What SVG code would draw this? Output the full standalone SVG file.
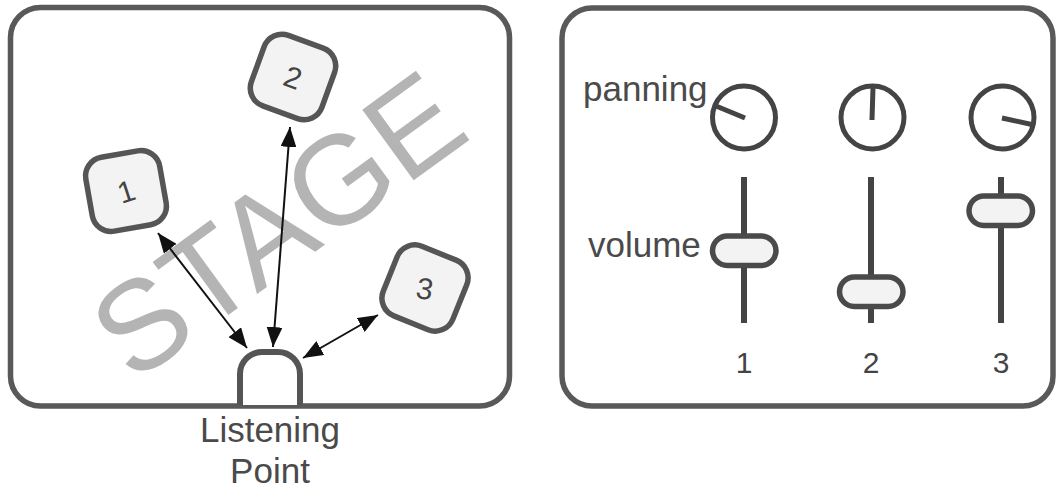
<svg xmlns="http://www.w3.org/2000/svg" width="1056" height="490" viewBox="0 0 1056 490">
  <style>
    .panel { fill: #ffffff; stroke: #595959; stroke-width: 5.5; }
    .src rect { fill: #f3f3f3; stroke: #555555; stroke-width: 5.5; }
    .src text { font-family: "Liberation Sans", Arial, sans-serif; font-size: 30px; fill: #444444; text-anchor: middle; }
    .lbl { font-family: "Liberation Sans", Arial, sans-serif; font-size: 35px; fill: #4a4a4a; }
    .num { font-family: "Liberation Sans", Arial, sans-serif; font-size: 30px; fill: #444444; text-anchor: middle; }
    .knob circle { fill: #ffffff; stroke: #444444; stroke-width: 5; }
    .knob line { stroke: #444444; stroke-width: 5; }
    .fader line { stroke: #444444; stroke-width: 6; }
    .fader rect { fill: #f3f3f3; stroke: #4a4a4a; stroke-width: 5.5; }
    .link { stroke: #111111; stroke-width: 2; fill: none; marker-start: url(#head); marker-end: url(#head); }
  </style>
  <defs>
    <marker id="head" viewBox="0 0 20 16" refX="20" refY="8" markerWidth="20" markerHeight="16" markerUnits="userSpaceOnUse" orient="auto-start-reverse">
      <path d="M0,0 L20,8 L0,16 z" fill="#111111"/>
    </marker>
  </defs>

  <!-- Stage panel -->
  <g id="stage">
    <rect class="panel" x="10.5" y="7.5" width="499" height="398.5" rx="30"/>
    <g transform="translate(277,224) rotate(-36)">
      <text x="0" y="45" text-anchor="middle" font-family="'Liberation Sans', Arial, sans-serif" font-size="127" fill="#b4b4b4">STAGE</text>
    </g>
  </g>

  <!-- Mixer panel -->
  <g id="mixer">
    <rect class="panel" x="562" y="8" width="491" height="398" rx="30"/>
  </g>

  <!-- Connectors from sources to listener -->
  <g id="connectors">
    <line class="link" x1="158" y1="233" x2="247" y2="348"/>
    <line class="link" x1="290" y1="127" x2="273" y2="347"/>
    <line class="link" x1="378" y1="315" x2="303" y2="358"/>
  </g>

  <!-- Sound sources -->
  <g id="source-1" class="src" transform="translate(126,191) rotate(-10)">
    <rect x="-37.5" y="-37.5" width="75" height="75" rx="19"/>
    <text x="0" y="11" transform="rotate(-8)">1</text>
  </g>
  <g id="source-2" class="src" transform="translate(293,77) rotate(20)">
    <rect x="-37.5" y="-37.5" width="75" height="75" rx="19"/>
    <text x="0" y="11">2</text>
  </g>
  <g id="source-3" class="src" transform="translate(425,288) rotate(22)">
    <rect x="-37.5" y="-37.5" width="75" height="75" rx="19"/>
    <text x="0" y="11" transform="rotate(-12)">3</text>
  </g>

  <!-- Listening point -->
  <g id="listener">
    <path d="M240,405 V374 A22,22 0 0 1 262,352 H278 A22,22 0 0 1 300,374 V405" fill="#ffffff" stroke="#555555" stroke-width="6"/>
    <text class="lbl" x="270" y="442" text-anchor="middle">Listening</text>
    <text class="lbl" x="270" y="483" text-anchor="middle">Point</text>
  </g>

  <!-- Mixer labels -->
  <g id="labels">
    <text class="lbl" x="583" y="101">panning</text>
    <text class="lbl" x="588" y="257">volume</text>
  </g>

  <!-- Channel 1 -->
  <g id="channel-1">
    <g class="knob">
      <circle cx="744" cy="117.5" r="31.5"/>
      <line x1="745" y1="118" x2="716" y2="106"/>
    </g>
    <g class="fader">
      <line x1="744" y1="177" x2="744" y2="323"/>
      <rect x="712.5" y="236" width="63.5" height="29.5" rx="14.75"/>
    </g>
    <text class="num" x="744" y="373">1</text>
  </g>

  <!-- Channel 2 -->
  <g id="channel-2">
    <g class="knob">
      <circle cx="872.5" cy="117.5" r="31.5"/>
      <line x1="872" y1="120" x2="873" y2="87"/>
    </g>
    <g class="fader">
      <line x1="871" y1="177" x2="871" y2="323"/>
      <rect x="839.5" y="277" width="63.5" height="29.5" rx="14.75"/>
    </g>
    <text class="num" x="871" y="373">2</text>
  </g>

  <!-- Channel 3 -->
  <g id="channel-3">
    <g class="knob">
      <circle cx="1002.5" cy="117.5" r="31.5"/>
      <line x1="1002" y1="118" x2="1034" y2="125"/>
    </g>
    <g class="fader">
      <line x1="1001" y1="177" x2="1001" y2="323"/>
      <rect x="969" y="196" width="63.5" height="29.5" rx="14.75"/>
    </g>
    <text class="num" x="1001" y="373">3</text>
  </g>
</svg>
